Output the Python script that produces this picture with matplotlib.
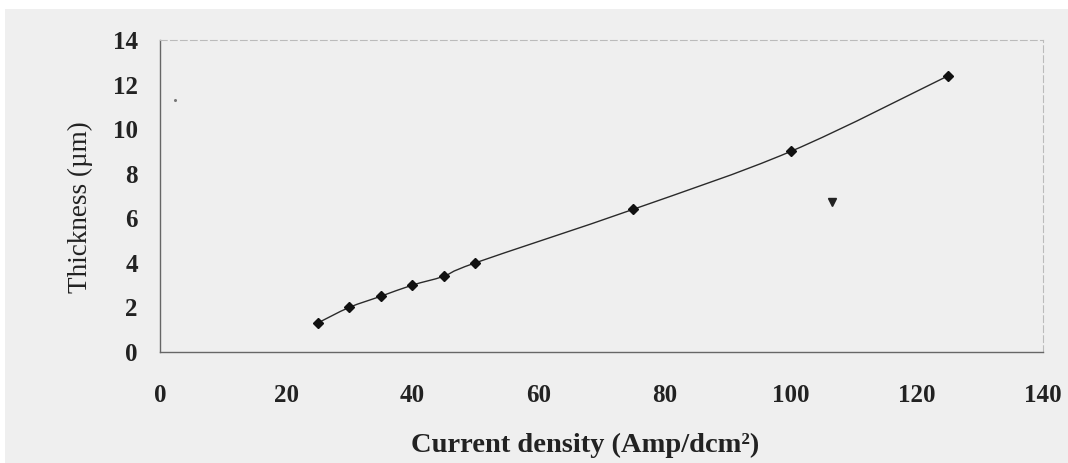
import matplotlib
matplotlib.use("Agg")
import matplotlib.pyplot as plt
import numpy as np
from matplotlib.path import Path
from matplotlib.patches import PathPatch, Rectangle

current_density = [25, 30, 35, 40, 45, 50, 75, 100, 125]
thickness = [1.3, 2.0, 2.5, 3.0, 3.4, 4.0, 6.4, 9.0, 12.4]

# scan artefacts visible on the page
speck_x = [106.5]
speck_y = [6.75]
dot_x = [2.4]
dot_y = [11.3]

x_ticks = [0, 20, 40, 60, 80, 100, 120, 140]
y_ticks = [0, 2, 4, 6, 8, 10, 12, 14]


def smooth_path(xs, ys):
    """Excel-style smoothed line: cubic Bezier segments through every point."""
    pts = np.column_stack([xs, ys]).astype(float)
    verts = [pts[0]]
    codes = [Path.MOVETO]
    n = len(pts)
    for i in range(n - 1):
        p0 = pts[i - 1] if i > 0 else pts[i]
        p1, p2 = pts[i], pts[i + 1]
        p3 = pts[i + 2] if i + 2 < n else pts[i + 1]
        c1 = p1 + (p2 - p0) / 6.0
        c2 = p2 - (p3 - p1) / 6.0
        verts += [c1, c2, p2]
        codes += [Path.CURVE4] * 3
    return Path(verts, codes)


plt.rcParams['font.family'] = ['Liberation Serif', 'DejaVu Serif']

fig = plt.figure(figsize=(10.68, 4.63), dpi=100)
fig.patch.set_facecolor('white')
# grey scanned page area
fig.patches.append(Rectangle((5 / 1068, 0), 1, 1 - 9 / 463, transform=fig.transFigure,
                             facecolor='#efefef', edgecolor='none', zorder=-10))

ax = fig.add_axes([160 / 1068, 1 - 352 / 463, (1043 - 160) / 1068, (352 - 40) / 463])
ax.set_facecolor('none')

ax.add_patch(PathPatch(smooth_path(current_density, thickness), facecolor='none',
                       edgecolor='#2a2a2a', linewidth=1.0, zorder=3))
ax.plot(current_density, thickness, linestyle='none', marker='D', markersize=5,
        color='#111111', zorder=4)
ax.plot(speck_x, speck_y, linestyle='none', marker='v', markersize=6, color='#222222')
ax.plot(dot_x, dot_y, linestyle='none', marker='o', markersize=1.2, color='#777777')

ax.set_xlim(0, 140)
ax.set_ylim(0, 14)
ax.set_xticks(x_ticks)
ax.set_yticks(y_ticks)
ax.tick_params(length=0, labelsize=18, colors='#222222')
ax.tick_params(axis='x', pad=23)
ax.tick_params(axis='y', pad=16)
for lbl in ax.get_xticklabels() + ax.get_yticklabels():
    lbl.set_fontweight('bold')

ax.spines['left'].set_color('#666666')
ax.spines['bottom'].set_color('#666666')
ax.spines['left'].set_linewidth(1.0)
ax.spines['bottom'].set_linewidth(1.0)
for side in ('top', 'right'):
    ax.spines[side].set_color('#bbbbbb')
    ax.spines[side].set_linewidth(0.8)
    ax.spines[side].set_linestyle((0, (6, 3)))

ax.set_xlabel('Current density (Amp/dcm\u00b2)', fontsize=20.5, fontweight='bold',
              color='#222222')
ax.xaxis.set_label_coords((585 - 160) / (1043 - 160), -(445 - 352) / (352 - 40))
ax.xaxis.label.set_va('center')
ax.set_ylabel('Thickness (\u00b5m)', fontsize=19.5, color='#222222')
ax.yaxis.set_label_coords(-(160 - 80) / (1043 - 160), (352 - 207) / (352 - 40))
ax.yaxis.label.set_va('center')

fig.savefig('out.png', dpi=100, facecolor=fig.get_facecolor())
